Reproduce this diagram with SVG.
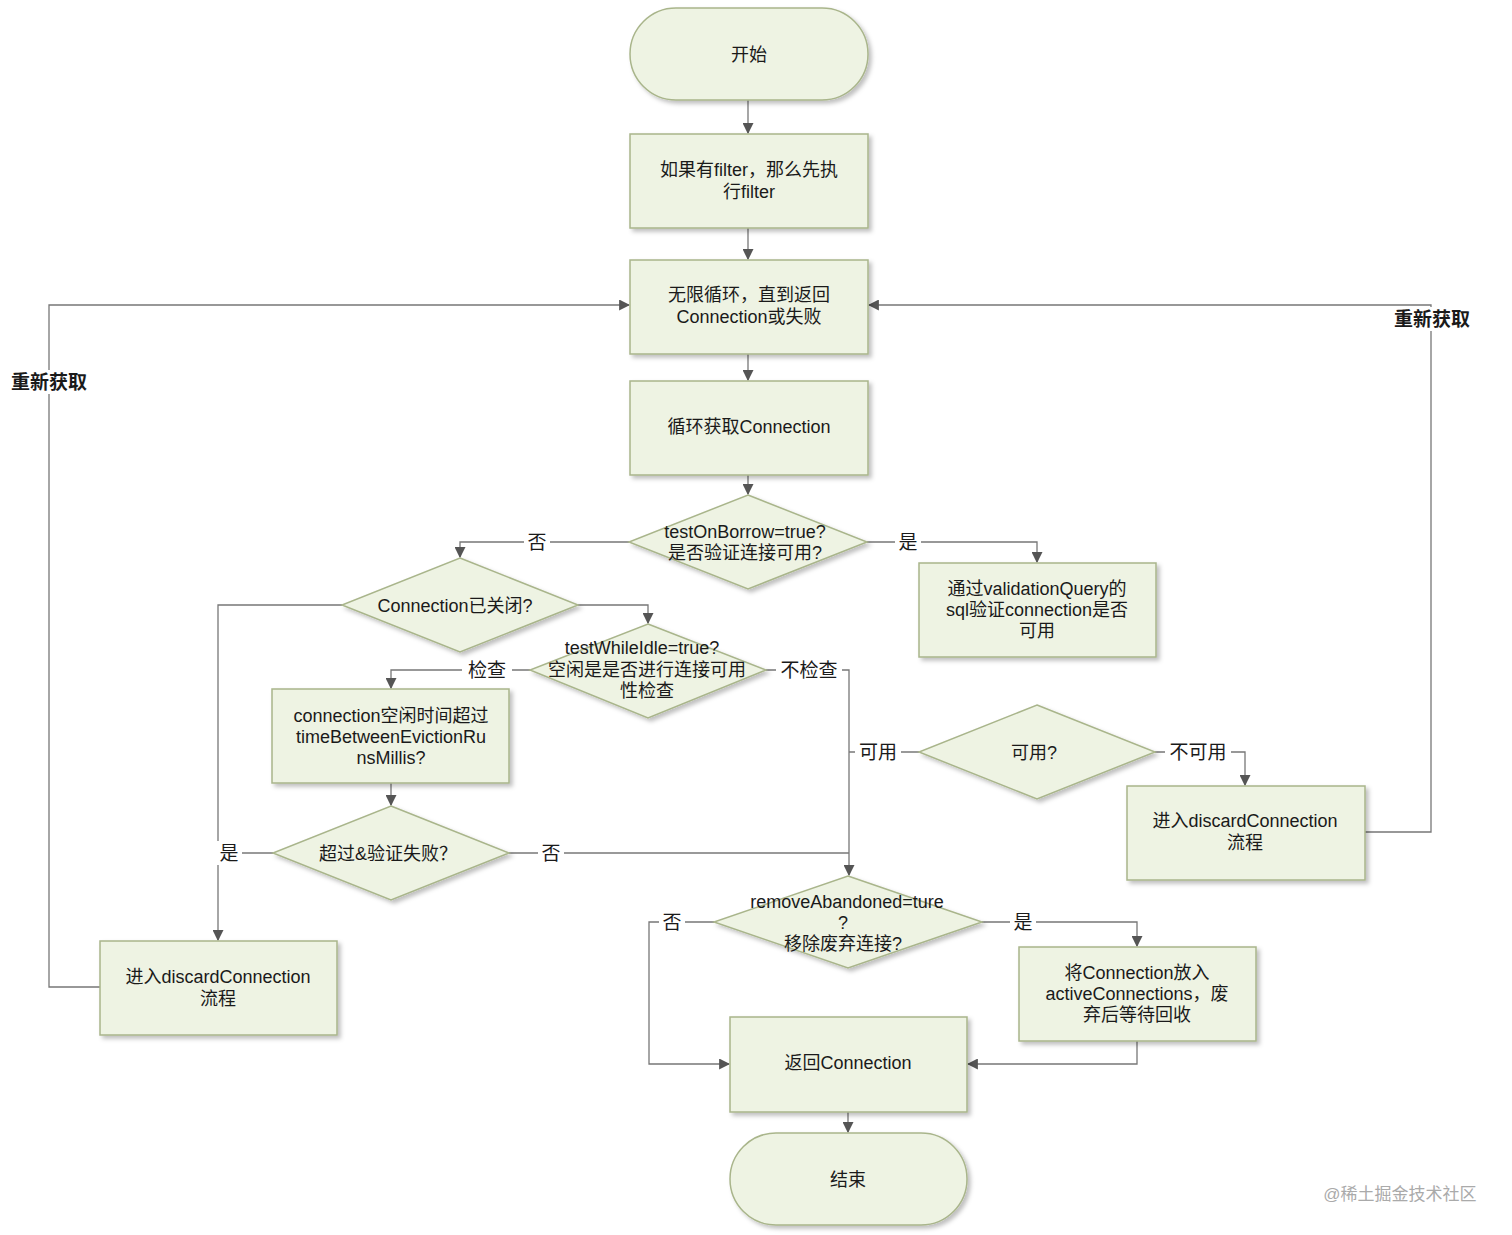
<svg xmlns="http://www.w3.org/2000/svg" width="1512" height="1235" viewBox="0 0 1512 1235">
<defs>
<marker id="a" viewBox="0 0 10 10" refX="9" refY="5" markerWidth="11" markerHeight="11" markerUnits="userSpaceOnUse" orient="auto"><path d="M0,0L10,5L0,10z" fill="#555"/></marker>
<filter id="sh" x="-10%" y="-10%" width="130%" height="130%"><feDropShadow dx="3" dy="3" stdDeviation="2" flood-color="#000" flood-opacity="0.25"/></filter>
</defs>
<style>
.n{fill:#eef3e3;stroke:#a9b58b;stroke-width:1.5;filter:url(#sh)}
.t{font-family:"Liberation Sans","Noto Sans CJK SC",sans-serif;font-size:18px;fill:#1a1a1a;text-anchor:middle}
.l{font-family:"Liberation Sans","Noto Sans CJK SC",sans-serif;font-size:19px;fill:#1a1a1a;text-anchor:middle}
.c path{fill:none;stroke:#777;stroke-width:1.3}
.c path.m{marker-end:url(#a)}
.bg{fill:#fff}
</style>
<rect width="1512" height="1235" fill="#fff"/>
<g class="c" id="connectors">
<path class="m" d="M748,100V133"/>
<path class="m" d="M748,228V259"/>
<path class="m" d="M748,354V380"/>
<path class="m" d="M748,475V494"/>
<path class="m" d="M629,542H460V557"/>
<path class="m" d="M867,542H1037V562"/>
<path class="m" d="M578,605H648V623"/>
<path class="m" d="M342,605H218V940"/>
<path d="M273,853H218"/>
<path class="m" d="M530,670H391V688"/>
<path class="m" d="M766,670H849V875"/>
<path d="M919,752H849"/>
<path d="M509,853H849"/>
<path class="m" d="M1155,752H1245V785"/>
<path class="m" d="M1365,832H1431V305H869"/>
<path class="m" d="M100,987H49V305H629"/>
<path class="m" d="M391,783V805"/>
<path class="m" d="M714,922H649V1064H729"/>
<path class="m" d="M982,922H1137V946"/>
<path class="m" d="M1137,1041V1064H968"/>
<path class="m" d="M848,1112V1132"/>
</g>
<g id="edge-labels">
<rect class="bg" x="524" y="530" width="26" height="24"/><text class="l" x="537" y="549">否</text>
<rect class="bg" x="895" y="530" width="26" height="24"/><text class="l" x="908" y="549">是</text>
<rect class="bg" x="462" y="658" width="50" height="24"/><text class="l" x="487" y="677">检查</text>
<rect class="bg" x="776" y="658" width="66" height="24"/><text class="l" x="809" y="677">不检查</text>
<rect class="bg" x="855" y="740" width="46" height="24"/><text class="l" x="878" y="759">可用</text>
<rect class="bg" x="1165" y="740" width="66" height="24"/><text class="l" x="1198" y="759">不可用</text>
<rect class="bg" x="216" y="841" width="26" height="24"/><text class="l" x="229" y="860">是</text>
<rect class="bg" x="538" y="841" width="26" height="24"/><text class="l" x="551" y="860">否</text>
<rect class="bg" x="659" y="910" width="26" height="24"/><text class="l" x="672" y="929">否</text>
<rect class="bg" x="1010" y="910" width="26" height="24"/><text class="l" x="1023" y="929">是</text>
<rect class="bg" x="1388" y="307" width="88" height="24"/><text class="l" x="1432" y="326" font-weight="bold">重新获取</text>
<rect class="bg" x="5" y="370" width="88" height="24"/><text class="l" x="49" y="389" font-weight="bold">重新获取</text>
</g>
<g id="start"><rect class="n" x="630" y="8" width="238" height="92" rx="46"/><text class="t" x="749" y="61">开始</text></g>
<g id="filter"><rect class="n" x="630" y="134" width="238" height="94"/><text class="t" x="749" y="176">如果有filter，那么先执</text><text class="t" x="749" y="198">行filter</text></g>
<g id="loop"><rect class="n" x="630" y="260" width="238" height="94"/><text class="t" x="749" y="301">无限循环，直到返回</text><text class="t" x="749" y="323">Connection或失败</text></g>
<g id="getconn"><rect class="n" x="630" y="381" width="238" height="94"/><text class="t" x="749" y="433">循环获取Connection</text></g>
<g id="testOnBorrow"><path class="n" d="M748,495L867,542L748,589L629,542Z"/><text class="t" x="745" y="538">testOnBorrow=true?</text><text class="t" x="745" y="559">是否验证连接可用?</text></g>
<g id="closed"><path class="n" d="M460,558L578,605L460,652L342,605Z"/><text class="t" x="455" y="612">Connection已关闭?</text></g>
<g id="testWhileIdle"><path class="n" d="M648,624L766,670L648,718L530,670Z"/><text class="t" x="642" y="654">testWhileIdle=true?</text><text class="t" x="647" y="676">空闲是是否进行连接可用</text><text class="t" x="647" y="697">性检查</text></g>
<g id="idletime"><rect class="n" x="272" y="689" width="237" height="94"/><text class="t" x="391" y="722">connection空闲时间超过</text><text class="t" x="391" y="743">timeBetweenEvictionRu</text><text class="t" x="391" y="764">nsMillis?</text></g>
<g id="exceed"><path class="n" d="M391,806L509,853L391,900L273,853Z"/><text class="t" x="388" y="860">超过&amp;验证失败？</text></g>
<g id="discardL"><rect class="n" x="100" y="941" width="237" height="94"/><text class="t" x="218" y="983">进入discardConnection</text><text class="t" x="218" y="1005">流程</text></g>
<g id="validation"><rect class="n" x="919" y="563" width="237" height="94"/><text class="t" x="1037" y="595">通过validationQuery的</text><text class="t" x="1037" y="616">sql验证connection是否</text><text class="t" x="1037" y="637">可用</text></g>
<g id="usable"><path class="n" d="M1037,705L1155,752L1037,799L919,752Z"/><text class="t" x="1034" y="759">可用?</text></g>
<g id="discardR"><rect class="n" x="1127" y="786" width="238" height="94"/><text class="t" x="1245" y="827">进入discardConnection</text><text class="t" x="1245" y="849">流程</text></g>
<g id="removeAbandoned"><path class="n" d="M848,876L982,922L848,968L714,922Z"/><text class="t" x="847" y="908">removeAbandoned=ture</text><text class="t" x="843" y="929">?</text><text class="t" x="843" y="950">移除废弃连接?</text></g>
<g id="active"><rect class="n" x="1019" y="947" width="237" height="94"/><text class="t" x="1137" y="979">将Connection放入</text><text class="t" x="1137" y="1000">activeConnections，废</text><text class="t" x="1137" y="1021">弃后等待回收</text></g>
<g id="return"><rect class="n" x="730" y="1017" width="237" height="95"/><text class="t" x="848" y="1069">返回Connection</text></g>
<g id="end"><rect class="n" x="730" y="1133" width="237" height="92" rx="46"/><text class="t" x="848" y="1186">结束</text></g>
<text x="1400" y="1200" font-family="Liberation Sans,Noto Sans CJK SC,sans-serif" font-size="17" fill="#aaa" text-anchor="middle">@稀土掘金技术社区</text>
</svg>
